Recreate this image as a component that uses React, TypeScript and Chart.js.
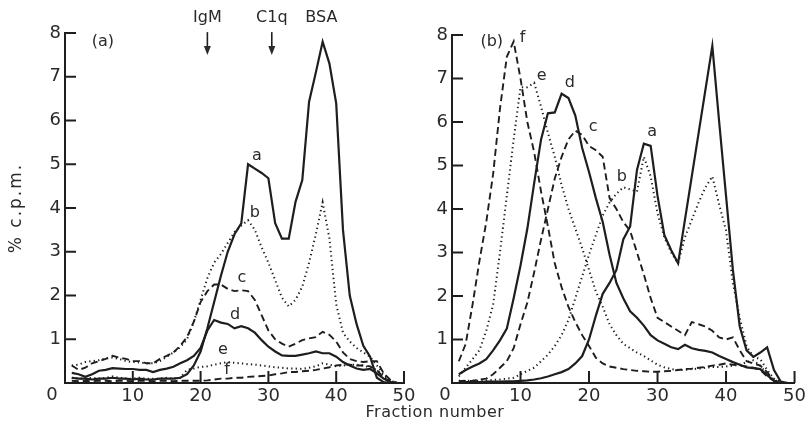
import React, { useEffect, useRef } from 'react';
import { Chart, registerables } from 'chart.js';

Chart.register(...registerables);

// ---------- data ----------
const fractions = [1, 2, 3, 4, 5, 6, 7, 8, 9, 10, 11, 12, 13, 14, 15, 16, 17, 18, 19, 20, 21, 22, 23, 24, 25, 26, 27, 28, 29, 30, 31, 32, 33, 34, 35, 36, 37, 38, 39, 40, 41, 42, 43, 44, 45, 46, 47, 48, 49];
const xTickValues = [0, 10, 20, 30, 40, 50];
const yTickValues = [0, 1, 2, 3, 4, 5, 6, 7, 8];

// Panel (a)
const panelA_a = [0.12, 0.1, 0.1, 0.08, 0.1, 0.1, 0.12, 0.1, 0.1, 0.08, 0.1, 0.08, 0.08, 0.1, 0.1, 0.1, 0.12, 0.2, 0.4, 0.72, 1.25, 1.85, 2.45, 3.0, 3.4, 3.65, 5.0, 4.9, 4.8, 4.68, 3.65, 3.3, 3.3, 4.14, 4.64, 6.43, 7.1, 7.8, 7.3, 6.39, 3.5, 2.0, 1.35, 0.85, 0.6, 0.12, 0.02, 0, 0];
const panelA_b = [0.4, 0.42, 0.48, 0.5, 0.52, 0.56, 0.58, 0.55, 0.5, 0.48, 0.47, 0.45, 0.45, 0.5, 0.6, 0.7, 0.82, 1.0, 1.4, 1.9, 2.4, 2.75, 2.95, 3.2, 3.45, 3.6, 3.72, 3.5, 3.1, 2.75, 2.35, 1.95, 1.75, 1.9, 2.2, 2.75, 3.4, 4.13, 3.3, 1.8, 1.15, 0.95, 0.8, 0.7, 0.6, 0.4, 0.2, 0.05, 0];
const panelA_c = [0.4, 0.3, 0.35, 0.45, 0.5, 0.55, 0.62, 0.58, 0.55, 0.5, 0.5, 0.45, 0.45, 0.55, 0.62, 0.7, 0.85, 1.05, 1.4, 1.85, 2.1, 2.25, 2.25, 2.15, 2.1, 2.12, 2.1, 1.9, 1.55, 1.2, 1.0, 0.9, 0.83, 0.9, 0.98, 1.02, 1.05, 1.17, 1.1, 0.95, 0.7, 0.55, 0.5, 0.48, 0.5, 0.5, 0.22, 0.07, 0];
const panelA_d = [0.23, 0.2, 0.14, 0.2, 0.28, 0.3, 0.34, 0.33, 0.32, 0.32, 0.3, 0.3, 0.25, 0.3, 0.33, 0.37, 0.45, 0.52, 0.62, 0.8, 1.2, 1.44, 1.38, 1.35, 1.25, 1.3, 1.25, 1.15, 0.98, 0.83, 0.72, 0.63, 0.62, 0.62, 0.65, 0.68, 0.72, 0.68, 0.68, 0.6, 0.48, 0.4, 0.33, 0.3, 0.32, 0.22, 0.1, 0.02, 0];
const panelA_e = [0.12, 0.1, 0.1, 0.12, 0.1, 0.12, 0.15, 0.12, 0.1, 0.1, 0.12, 0.1, 0.1, 0.1, 0.12, 0.1, 0.12, 0.3, 0.33, 0.37, 0.38, 0.42, 0.45, 0.48, 0.46, 0.45, 0.43, 0.42, 0.4, 0.38, 0.36, 0.35, 0.33, 0.33, 0.32, 0.35, 0.38, 0.45, 0.42, 0.38, 0.4, 0.42, 0.42, 0.4, 0.35, 0.3, 0.15, 0.03, 0];
const panelA_f = [0.05, 0.04, 0.05, 0.04, 0.05, 0.05, 0.04, 0.05, 0.05, 0.04, 0.05, 0.05, 0.04, 0.05, 0.05, 0.04, 0.05, 0.05, 0.05, 0.05, 0.06, 0.08, 0.1, 0.1, 0.12, 0.12, 0.14, 0.15, 0.16, 0.17, 0.2, 0.22, 0.25, 0.25, 0.27, 0.28, 0.3, 0.33, 0.36, 0.4, 0.42, 0.42, 0.4, 0.4, 0.38, 0.3, 0.12, 0.03, 0];

// Panel (b)
const panelB_a = [0.02, 0.02, 0.02, 0.02, 0.03, 0.03, 0.03, 0.04, 0.04, 0.05, 0.06, 0.08, 0.11, 0.15, 0.2, 0.25, 0.32, 0.45, 0.62, 1.0, 1.55, 2.05, 2.3, 2.6, 3.3, 3.6, 4.9, 5.5, 5.45, 4.3, 3.4, 3.05, 2.75, 3.75, 4.75, 5.75, 6.75, 7.75, 6.0, 4.3, 2.6, 1.3, 0.75, 0.6, 0.7, 0.82, 0.3, 0.03, 0];
const panelB_b = [0.05, 0.05, 0.05, 0.05, 0.06, 0.07, 0.08, 0.1, 0.12, 0.2, 0.28, 0.35, 0.5, 0.65, 0.85, 1.1, 1.45, 1.95, 2.45, 2.95, 3.4, 3.85, 4.15, 4.35, 4.5, 4.45, 4.4, 5.2, 4.75, 3.9, 3.35, 3.0, 2.75, 3.35, 3.75, 4.15, 4.5, 4.75, 4.1, 3.5, 2.3, 1.5, 0.85, 0.6, 0.55, 0.3, 0.1, 0.02, 0];
const panelB_c = [0.05, 0.05, 0.05, 0.08, 0.1, 0.2, 0.35, 0.5, 0.8, 1.35, 1.85, 2.55, 3.3, 4.0, 4.7, 5.2, 5.6, 5.8, 5.7, 5.45, 5.35, 5.2, 4.25, 4.0, 3.7, 3.5, 3.0, 2.5, 1.95, 1.5, 1.4, 1.3, 1.2, 1.1, 1.4, 1.35, 1.3, 1.2, 1.05, 1.0, 1.05, 0.75, 0.5, 0.45, 0.4, 0.25, 0.05, 0, 0];
const panelB_d = [0.2, 0.3, 0.38, 0.45, 0.55, 0.75, 0.98, 1.25, 1.95, 2.7, 3.55, 4.6, 5.6, 6.2, 6.22, 6.65, 6.55, 6.15, 5.4, 4.85, 4.25, 3.7, 2.95, 2.3, 1.95, 1.65, 1.5, 1.32, 1.1, 0.98, 0.9, 0.82, 0.78, 0.88, 0.8, 0.76, 0.74, 0.7, 0.62, 0.55, 0.48, 0.42, 0.36, 0.34, 0.32, 0.18, 0.05, 0, 0];
const panelB_e = [0.15, 0.35, 0.55, 0.75, 1.2, 1.8, 3.0, 4.3, 5.6, 6.8, 6.8, 6.9, 6.35, 5.75, 5.2, 4.55, 4.0, 3.55, 3.1, 2.6, 2.1, 1.75, 1.35, 1.1, 0.9, 0.8, 0.7, 0.62, 0.52, 0.42, 0.36, 0.32, 0.3, 0.3, 0.32, 0.33, 0.35, 0.37, 0.37, 0.38, 0.4, 0.42, 0.48, 0.52, 0.4, 0.2, 0.08, 0, 0];
const panelB_f = [0.5, 0.9, 1.8, 2.8, 3.7, 4.8, 6.3, 7.5, 7.85, 7.0, 6.0, 5.3, 4.4, 3.6, 2.75, 2.2, 1.75, 1.4, 1.1, 0.85, 0.58, 0.45, 0.38, 0.35, 0.32, 0.3, 0.28, 0.27, 0.26, 0.26, 0.27, 0.28, 0.3, 0.32, 0.33, 0.35, 0.37, 0.4, 0.42, 0.45, 0.42, 0.4, 0.38, 0.35, 0.3, 0.15, 0.05, 0, 0];

// curve letters and their positions in data units
const labelsA = [
  { text: '(a)', x: 5.6, y: 7.8 },
  { text: 'a', x: 28.3, y: 5.2 },
  { text: 'b', x: 28.0, y: 3.9 },
  { text: 'c', x: 26.1, y: 2.4 },
  { text: 'd', x: 25.1, y: 1.55 },
  { text: 'e', x: 23.3, y: 0.75 },
  { text: 'f', x: 23.9, y: 0.3 },
];
const labelsB = [
  { text: '(b)', x: 5.8, y: 7.84 },
  { text: 'f', x: 10.3, y: 7.93 },
  { text: 'e', x: 13.1, y: 7.06 },
  { text: 'd', x: 17.2, y: 6.9 },
  { text: 'c', x: 20.6, y: 5.88 },
  { text: 'a', x: 29.2, y: 5.77 },
  { text: 'b', x: 24.8, y: 4.74 },
];
const markers = [
  { text: 'IgM', x: 21.0, arrow: true },
  { text: 'C1q', x: 30.5, arrow: true },
  { text: 'BSA', x: 37.8, arrow: false },
];

const INK = '#1e1e1e';
const TEXT = '#2a2a2a';
const FONT = '"DejaVu Sans", sans-serif';
const FW = 'normal';

type Style = 'solid' | 'dashed' | 'dotted';

function series(values: number[], style: Style) {
  return {
    data: values.map((v, i) => ({ x: fractions[i], y: v })),
    borderColor: INK,
    borderWidth: style === 'solid' ? 2.2 : style === 'dashed' ? 1.9 : 2,
    borderDash: style === 'dashed' ? [7, 4] : style === 'dotted' ? [1.3, 3.2] : [],
    pointRadius: 0,
    tension: 0,
    fill: false,
  };
}

function makeDecor(cfg: {
  labels: { text: string; x: number; y: number }[];
  zeroShift: number;
  markers?: typeof markers;
  yTitle?: boolean;
}) {
  return {
    id: 'decor',
    afterDraw(chart: any) {
      const ctx = chart.ctx;
      const xs = chart.scales.x;
      const ys = chart.scales.y;
      const bottom = ys.getPixelForValue(0);
      const left = xs.getPixelForValue(0);
      ctx.save();
      ctx.strokeStyle = INK;
      ctx.fillStyle = TEXT;
      ctx.lineWidth = 2;
      // inward ticks
      xTickValues.forEach((v) => {
        if (v === 0) return;
        const px = xs.getPixelForValue(v);
        ctx.beginPath();
        ctx.moveTo(px, bottom);
        ctx.lineTo(px, bottom - 12);
        ctx.stroke();
      });
      yTickValues.forEach((v) => {
        if (v === 0) return;
        const py = ys.getPixelForValue(v);
        ctx.beginPath();
        ctx.moveTo(left, py);
        ctx.lineTo(left + 11, py);
        ctx.stroke();
      });
      // zero label on x axis
      ctx.font = `${FW} 18px ${FONT}`;
      ctx.textAlign = 'center';
      ctx.textBaseline = 'top';
      ctx.fillText('0', left + cfg.zeroShift, bottom + 3);
      // curve letters
      ctx.font = `${FW} 16px ${FONT}`;
      ctx.textBaseline = 'middle';
      cfg.labels.forEach((l) => {
        ctx.fillText(l.text, xs.getPixelForValue(l.x), ys.getPixelForValue(l.y));
      });
      // markers
      if (cfg.markers) {
        cfg.markers.forEach((m) => {
          const px = xs.getPixelForValue(m.x);
          ctx.font = `${FW} 16px ${FONT}`;
          ctx.fillText(m.text, px, ys.getPixelForValue(8.34));
          if (m.arrow) {
            const y0 = ys.getPixelForValue(8.02);
            const y1 = ys.getPixelForValue(7.5);
            ctx.lineWidth = 1.6;
            ctx.beginPath();
            ctx.moveTo(px, y0);
            ctx.lineTo(px, y1 - 6);
            ctx.stroke();
            ctx.beginPath();
            ctx.moveTo(px - 3.5, y1 - 9);
            ctx.lineTo(px + 3.5, y1 - 9);
            ctx.lineTo(px, y1);
            ctx.closePath();
            ctx.fill();
          }
        });
      }
      if (cfg.yTitle) {
        const ca = chart.chartArea;
        ctx.save();
        ctx.translate(ca.left - 48, (ca.top + ca.bottom) / 2);
        ctx.rotate(-Math.PI / 2);
        ctx.font = `${FW} 17px ${FONT}`;
        try {
          ctx.letterSpacing = '2px';
        } catch (e) {
          /* ignore */
        }
        ctx.textAlign = 'center';
        ctx.textBaseline = 'middle';
        ctx.fillText('% c.p.m.', 0, 0);
        ctx.restore();
      }
      ctx.restore();
    },
  };
}

function buildConfig(
  sets: any[],
  pad: { top: number; right: number; bottom: number },
  yWidth: number,
  decor: any
) {
  return {
    type: 'line' as const,
    data: { datasets: sets },
    plugins: [decor],
    options: {
      animation: false as const,
      responsive: false,
      events: [],
      layout: { padding: { left: 0, top: pad.top, right: pad.right, bottom: pad.bottom } },
      plugins: { legend: { display: false }, tooltip: { enabled: false } },
      scales: {
        x: {
          type: 'linear' as const,
          min: 0,
          max: 50,
          afterBuildTicks: (s: any) => {
            s.ticks = xTickValues.map((v) => ({ value: v }));
          },
          afterFit: (s: any) => {
            s.height = 30;
          },
          ticks: {
            callback: (v: any) => (v === 0 ? '' : String(v)),
            color: TEXT,
            font: { family: FONT, size: 18, weight: FW },
            padding: 3,
            maxRotation: 0,
          },
          grid: { display: false, drawTicks: false },
          border: { display: true, color: INK, width: 2 },
        },
        y: {
          type: 'linear' as const,
          min: 0,
          max: 8,
          afterBuildTicks: (s: any) => {
            s.ticks = yTickValues.map((v) => ({ value: v }));
          },
          afterFit: (s: any) => {
            s.width = yWidth;
          },
          ticks: {
            callback: (v: any) => (v === 0 ? '' : String(v)),
            color: TEXT,
            font: { family: FONT, size: 18, weight: FW },
            padding: 4,
          },
          grid: { display: false, drawTicks: false },
          border: { display: true, color: INK, width: 2 },
        },
      },
    },
  };
}

export default function App() {
  const refA = useRef<HTMLCanvasElement>(null);
  const refB = useRef<HTMLCanvasElement>(null);

  useEffect(() => {
    const setsA = [
      series(panelA_a, 'solid'),
      series(panelA_b, 'dotted'),
      series(panelA_c, 'dashed'),
      series(panelA_d, 'solid'),
      series(panelA_e, 'dotted'),
      series(panelA_f, 'dashed'),
    ];
    const setsB = [
      series(panelB_a, 'solid'),
      series(panelB_b, 'dotted'),
      series(panelB_c, 'dashed'),
      series(panelB_d, 'solid'),
      series(panelB_e, 'dotted'),
      series(panelB_f, 'dashed'),
    ];
    const chartA = new Chart(
      refA.current as HTMLCanvasElement,
      buildConfig(
        setsA,
        { top: 33, right: 21, bottom: 28 },
        65,
        makeDecor({ labels: labelsA, zeroShift: -13, markers, yTitle: true })
      ) as any
    );
    const chartB = new Chart(
      refB.current as HTMLCanvasElement,
      buildConfig(
        setsB,
        { top: 35, right: 14, bottom: 28 },
        27,
        makeDecor({ labels: labelsB, zeroShift: -7 })
      ) as any
    );
    return () => {
      chartA.destroy();
      chartB.destroy();
    };
  }, []);

  return (
    <div style={{ position: 'absolute', left: 0, top: 0, width: 809, height: 441, background: '#fff', overflow: 'hidden' }}>
      <canvas ref={refA} width={425} height={441} style={{ position: 'absolute', left: 0, top: 0, width: 425, height: 441 }} />
      <canvas ref={refB} width={384} height={441} style={{ position: 'absolute', left: 425, top: 0, width: 384, height: 441 }} />
      <div
        style={{
          position: 'absolute',
          left: 335,
          top: 402,
          width: 200,
          textAlign: 'center',
          fontFamily: FONT,
          fontSize: 16,
          letterSpacing: '0.5px',
          color: TEXT,
          lineHeight: '20px',
        }}
      >
        Fraction number
      </div>
    </div>
  );
}
